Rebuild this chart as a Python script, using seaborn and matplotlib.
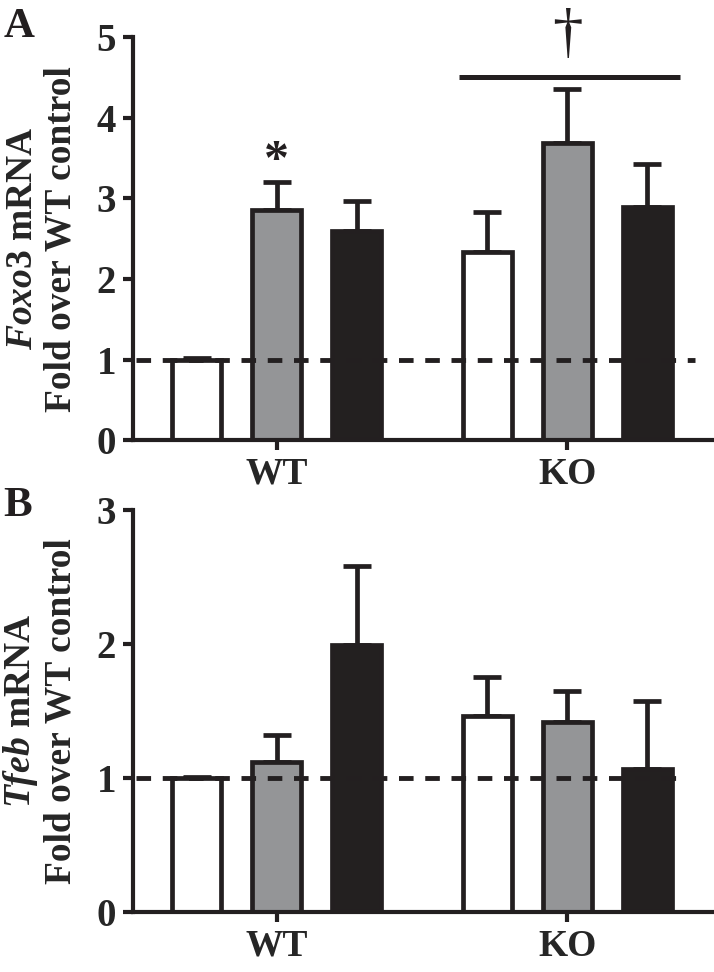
import seaborn as sns
import matplotlib.pyplot as plt
import pandas as pd

genotypes = ['WT', 'KO']
treatments = ['Control', 'Condition 1', 'Condition 2']

foxo3_mean = [[1.00, 2.85, 2.60], [2.33, 3.68, 2.89]]
foxo3_err = [[0.02, 0.35, 0.37], [0.50, 0.68, 0.53]]
tfeb_mean = [[1.00, 1.12, 1.99], [1.46, 1.42, 1.07]]
tfeb_err = [[0.01, 0.20, 0.59], [0.29, 0.23, 0.50]]

DARK = '#231f20'
colors = ['white', '#939598', DARK]

sns.set_style('ticks')
plt.rcParams['font.family'] = ['Liberation Serif', 'DejaVu Serif']
plt.rcParams['font.weight'] = 'bold'
plt.rcParams['mathtext.fontset'] = 'custom'
plt.rcParams['mathtext.it'] = 'Liberation Serif:italic:bold'
plt.rcParams['mathtext.rm'] = 'Liberation Serif:bold'


def make_df(means, errs):
    rows = []
    for gi, g in enumerate(genotypes):
        for ti, t in enumerate(treatments):
            rows.append({'genotype': g, 'treatment': t,
                         'value': means[gi][ti], 'err': errs[gi][ti]})
    return pd.DataFrame(rows)


def draw_panel(ax, df, ymax, ylabel):
    sns.barplot(data=df, x='genotype', y='value', hue='treatment',
                order=genotypes, hue_order=treatments, palette=colors,
                edgecolor=DARK, linewidth=3.4, errorbar=None,
                width=0.825, gap=0.39, legend=False, ax=ax, zorder=2)
    bar_containers = list(ax.containers)
    for ti, cont in enumerate(bar_containers):
        for bar in cont.patches:
            cx = bar.get_x() + bar.get_width() / 2
            gi = int(round(cx))
            h = bar.get_height()
            e = df[(df.genotype == genotypes[gi]) &
                   (df.treatment == treatments[ti])]['err'].iloc[0]
            ax.errorbar(cx, h, yerr=[[0], [e]], fmt='none', ecolor=DARK,
                        elinewidth=3.4, capsize=10, capthick=3.4, zorder=1)
    ax.set_xlim(-0.495, 1.5)
    ax.set_ylim(0, ymax)
    ax.set_yticks(range(ymax + 1))
    sns.despine(ax=ax)
    for s in ['left', 'bottom']:
        ax.spines[s].set_linewidth(3)
        ax.spines[s].set_color(DARK)
    ax.tick_params(axis='both', width=3, length=7, color=DARK,
                   labelsize=28, pad=5)
    ax.tick_params(axis='x', labelsize=27, pad=5)
    ax.set_xlabel('')
    ax.set_ylabel(ylabel, fontsize=27, fontweight='bold', linespacing=1.15)
    ax.yaxis.set_label_coords(-0.093, 0.5)


fig = plt.figure(figsize=(7.14, 9.72), dpi=100)
axA = fig.add_axes([0.186, 0.547, 0.812, 0.415])
axB = fig.add_axes([0.186, 0.0617, 0.812, 0.414])

dfA = make_df(foxo3_mean, foxo3_err)
draw_panel(axA, dfA, 5, '$\\mathit{Foxo3}$ mRNA\nFold over WT control')
axA.axhline(1, xmin=0.005, xmax=0.97, color=DARK, lw=3.5,
            linestyle=(0, (3.0, 2.4)), zorder=3)
axA.plot([0.629, 1.388], [4.5, 4.5], color=DARK, lw=3.6, solid_capstyle='butt')
axA.text(1.0, 4.66, '\u2020', ha='center', va='bottom', fontsize=44,
         fontweight='normal', color=DARK, clip_on=False)
axA.text(0.0, 3.45, '*', ha='center', va='center', fontsize=36,
         fontweight='bold', color=DARK)

dfB = make_df(tfeb_mean, tfeb_err)
draw_panel(axB, dfB, 3, '$\\mathit{Tfeb}$ mRNA\nFold over WT control')
axB.axhline(1, xmin=0.005, xmax=0.95, color=DARK, lw=3.5,
            linestyle=(0, (3.0, 2.4)), zorder=3)

fig.text(0.005, 1 - 8 / 972, 'A', fontsize=31, fontweight='bold',
         va='top', ha='left', color=DARK)
fig.text(0.005, 1 - 487 / 972, 'B', fontsize=31, fontweight='bold',
         va='top', ha='left', color=DARK)

fig.savefig('out.png', dpi=100)
